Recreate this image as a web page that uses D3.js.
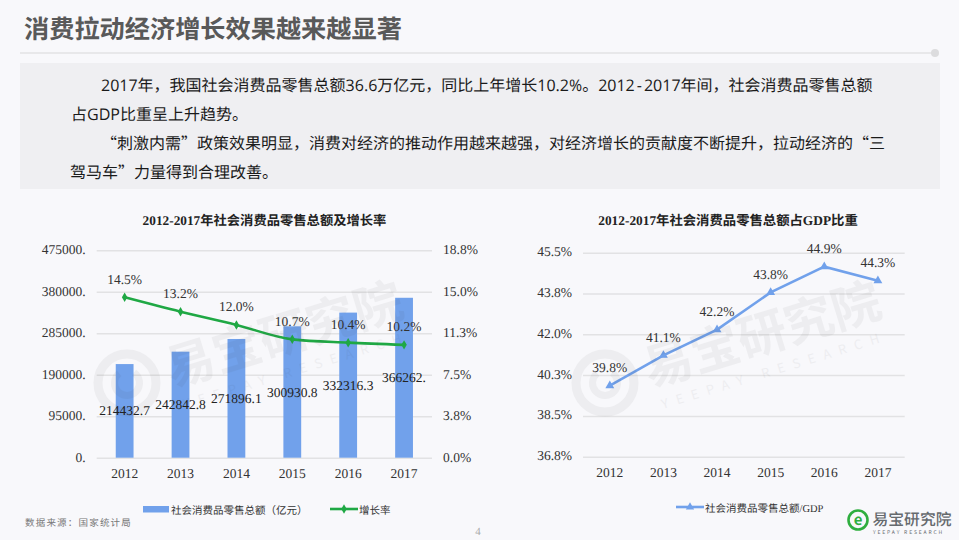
<!DOCTYPE html>
<html>
<head>
<meta charset="utf-8">
<script src="https://cdn.jsdelivr.net/npm/d3@7/dist/d3.min.js"></script>
<style>
  @font-face {
    font-family: "BodyLatin";
    src: local("Open Sans");
    unicode-range: U+25, U+2D-2E, U+30-39, U+41-5A;
  }
  html, body { margin: 0; padding: 0; background: #f8f8fb; }
  svg { display: block; }
  text { font-family: "Noto Sans CJK SC", sans-serif; text-rendering: geometricPrecision; }
  .num text, text.num { font-family: "Liberation Serif", "Noto Sans CJK SC", serif; }
  text.para { font-family: "BodyLatin", "Noto Sans CJK SC", sans-serif; }
  .axis path { display: none; }
  .axis line { stroke: #e2e2e4; stroke-width: 1.5; }
</style>
</head>
<body>
<div id="chart"></div>
<script>
var years = ["2012", "2013", "2014", "2015", "2016", "2017"];
var retailSales = [214432.7, 242842.8, 271896.1, 300930.8, 332316.3, 366262];
var growthRate = [14.5, 13.2, 12.0, 10.7, 10.4, 10.2];
var gdpShare = [39.8, 41.1, 42.2, 43.8, 44.9, 44.3];

var salesTicks = [0, 95000, 190000, 285000, 380000, 475000];
var rateTicks = [0, 3.75, 7.5, 11.25, 15, 18.75];
var shareTicks = [36.75, 38.5, 40.25, 42, 43.75, 45.5];

var paragraphLines = [
  "2017年，我国社会消费品零售总额36.6万亿元，同比上年增长10.2%。2012-2017年间，社会消费品零售总额",
  "占GDP比重呈上升趋势。",
  "“刺激内需”政策效果明显，消费对经济的推动作用越来越强，对经济增长的贡献度不断提升，拉动经济的“三",
  "驾马车”力量得到合理改善。"
];
var paragraphX = [101, 71, 101, 70];

var svg = d3.select("#chart").append("svg")
  .attr("width", 959)
  .attr("height", 540);

// header
svg.append("text")
  .attr("x", 24).attr("y", 38)
  .attr("font-size", 25.2).attr("font-weight", 700)
  .attr("fill", "#595959")
  .text("消费拉动经济增长效果越来越显著");

svg.append("line")
  .attr("x1", 20).attr("x2", 935).attr("y1", 53).attr("y2", 53)
  .attr("stroke", "#e8e8ea").attr("stroke-width", 2);
svg.append("circle")
  .attr("cx", 935).attr("cy", 53).attr("r", 4)
  .attr("fill", "#dcdcde");

svg.append("rect")
  .attr("x", 20).attr("y", 63).attr("width", 920).attr("height", 126)
  .attr("fill", "#efeff2");

svg.selectAll("text.para")
  .data(paragraphLines)
  .enter()
  .append("text")
  .attr("class", "para")
  .attr("x", (d, i) => paragraphX[i])
  .attr("y", (d, i) => 90.5 + i * 29)
  .attr("font-size", 16)
  .attr("fill", "#1a1a1a")
  .each(function(d) {
    // the hyphen sits wider in the reference than in this font
    d3.select(this).selectAll("tspan")
      .data(d.split(/(-)/))
      .enter()
      .append("tspan")
      .attr("dx", (p, i) => i ? 2 : 0)
      .text(p => p);
  });

// left chart
var leftX = d3.scaleBand().domain(years).range([96.7, 432]);
var salesY = d3.scaleLinear().domain([0, 475000]).range([457.7, 250.3]);
var rateY = d3.scaleLinear().domain([0, 18.75]).range([457.7, 250.3]);

var leftAxis = svg.append("g")
  .attr("class", "axis num")
  .attr("transform", "translate(96.7,0)")
  .call(d3.axisLeft(salesY)
    .tickValues(salesTicks)
    .tickSize(-335.3)
    .tickPadding(11)
    .tickFormat(d => d + "."));

var rightAxis = svg.append("g")
  .attr("class", "axis num")
  .attr("transform", "translate(432,0)")
  .call(d3.axisRight(rateY)
    .tickValues(rateTicks)
    .tickSize(0)
    .tickPadding(11)
    .tickFormat(d => d.toFixed(1) + "%"));

leftAxis.selectAll("text").attr("font-size", 13.5).attr("fill", "#333").attr("dy", "0.25em");
rightAxis.selectAll("text").attr("font-size", 13.5).attr("fill", "#333").attr("dy", "0.25em");

svg.selectAll("rect.bar")
  .data(retailSales)
  .enter()
  .append("rect")
  .attr("class", "bar")
  .attr("x", (d, i) => leftX(years[i]) + leftX.bandwidth() / 2 - 8.9)
  .attr("width", 17.8)
  .attr("y", d => salesY(d))
  .attr("height", d => salesY(0) - salesY(d))
  .attr("fill", "#71a1eb");

var rateLine = d3.line()
  .x((d, i) => leftX(years[i]) + leftX.bandwidth() / 2)
  .y(d => rateY(d))
  .curve(d3.curveMonotoneX);

svg.append("path")
  .datum(growthRate)
  .attr("d", rateLine)
  .attr("fill", "none")
  .attr("stroke", "#1fa844")
  .attr("stroke-width", 2.6);

svg.selectAll("path.rate-marker")
  .data(growthRate)
  .enter()
  .append("path")
  .attr("class", "rate-marker")
  .attr("d", d3.symbol(d3.symbolDiamond, 26))
  .attr("transform", (d, i) => `translate(${leftX(years[i]) + leftX.bandwidth() / 2},${rateY(d)})`)
  .attr("fill", "#1fa844");

svg.selectAll("text.rate-label")
  .data(growthRate)
  .enter()
  .append("text")
  .attr("class", "rate-label num")
  .attr("x", (d, i) => leftX(years[i]) + leftX.bandwidth() / 2)
  .attr("y", d => rateY(d) - 13.5)
  .attr("text-anchor", "middle")
  .attr("font-size", 13.5)
  .attr("fill", "#333")
  .text(d => d.toFixed(1) + "%");

svg.selectAll("text.sales-label")
  .data(retailSales)
  .enter()
  .append("text")
  .attr("class", "sales-label num")
  .attr("x", (d, i) => leftX(years[i]) + leftX.bandwidth() / 2)
  .attr("y", d => salesY(d / 2) + 4.5)
  .attr("text-anchor", "middle")
  .attr("font-size", 13.5)
  .attr("fill", "#222")
  .text(d => d % 1 ? d : d + ".");

svg.selectAll("text.left-year")
  .data(years)
  .enter()
  .append("text")
  .attr("class", "left-year num")
  .attr("x", d => leftX(d) + leftX.bandwidth() / 2)
  .attr("y", 478)
  .attr("text-anchor", "middle")
  .attr("font-size", 13.5)
  .attr("fill", "#333")
  .text(d => d);

svg.append("text")
  .attr("class", "num")
  .attr("x", 264.5).attr("y", 225)
  .attr("text-anchor", "middle")
  .attr("font-size", 13.3).attr("font-weight", 700)
  .attr("fill", "#222")
  .text("2012-2017年社会消费品零售总额及增长率");

// left legend
svg.append("rect")
  .attr("x", 143).attr("y", 506).attr("width", 26).attr("height", 6.5)
  .attr("fill", "#71a1eb");
svg.append("text")
  .attr("x", 171).attr("y", 513.5)
  .attr("font-size", 10.5).attr("fill", "#333")
  .text("社会消费品零售总额（亿元）");
svg.append("line")
  .attr("x1", 330).attr("x2", 358).attr("y1", 509).attr("y2", 509)
  .attr("stroke", "#1fa844").attr("stroke-width", 2.6);
svg.append("path")
  .attr("d", d3.symbol(d3.symbolDiamond, 26))
  .attr("transform", "translate(344,509)")
  .attr("fill", "#1fa844");
svg.append("text")
  .attr("x", 359).attr("y", 513.5)
  .attr("font-size", 10.5).attr("fill", "#333")
  .text("增长率");

// right chart
var rightX = d3.scaleBand().domain(years).range([583, 904.7]);
var shareY = d3.scaleLinear().domain([36.75, 45.5]).range([456.7, 252.7]);

var shareAxis = svg.append("g")
  .attr("class", "axis num")
  .attr("transform", "translate(583,0)")
  .call(d3.axisLeft(shareY)
    .tickValues(shareTicks)
    .tickSize(-321.7)
    .tickPadding(11)
    .tickFormat(d => d.toFixed(1) + "%"));
shareAxis.selectAll("text").attr("font-size", 13.5).attr("fill", "#333").attr("dy", "0.22em");

var shareLine = d3.line()
  .x((d, i) => rightX(years[i]) + rightX.bandwidth() / 2)
  .y(d => shareY(d));

svg.append("path")
  .datum(gdpShare)
  .attr("d", shareLine)
  .attr("fill", "none")
  .attr("stroke", "#71a1eb")
  .attr("stroke-width", 2.6);

svg.selectAll("path.share-marker")
  .data(gdpShare)
  .enter()
  .append("path")
  .attr("class", "share-marker")
  .attr("d", d3.symbol(d3.symbolTriangle, 34))
  .attr("transform", (d, i) => `translate(${rightX(years[i]) + rightX.bandwidth() / 2},${shareY(d)})`)
  .attr("fill", "#71a1eb");

svg.selectAll("text.share-label")
  .data(gdpShare)
  .enter()
  .append("text")
  .attr("class", "share-label num")
  .attr("x", (d, i) => rightX(years[i]) + rightX.bandwidth() / 2)
  .attr("y", d => shareY(d) - 13.5)
  .attr("text-anchor", "middle")
  .attr("font-size", 13.5)
  .attr("fill", "#333")
  .text(d => d.toFixed(1) + "%");

svg.selectAll("text.right-year")
  .data(years)
  .enter()
  .append("text")
  .attr("class", "right-year num")
  .attr("x", d => rightX(d) + rightX.bandwidth() / 2)
  .attr("y", 477)
  .attr("text-anchor", "middle")
  .attr("font-size", 13.5)
  .attr("fill", "#333")
  .text(d => d);

svg.append("text")
  .attr("class", "num")
  .attr("x", 728).attr("y", 225)
  .attr("text-anchor", "middle")
  .attr("font-size", 13.35).attr("font-weight", 700)
  .attr("fill", "#222")
  .text("2012-2017年社会消费品零售总额占GDP比重");

// right legend
svg.append("line")
  .attr("x1", 676).attr("x2", 704).attr("y1", 507).attr("y2", 507)
  .attr("stroke", "#71a1eb").attr("stroke-width", 2.6);
svg.append("path")
  .attr("d", d3.symbol(d3.symbolTriangle, 30))
  .attr("transform", "translate(690,507)")
  .attr("fill", "#71a1eb");
svg.append("text")
  .attr("class", "num")
  .attr("x", 705).attr("y", 511.5)
  .attr("font-size", 10.5).attr("fill", "#333")
  .text("社会消费品零售总额/GDP");

// watermarks, faint and on top of the marks
function watermark(cx, cy) {
  var g = svg.append("g").attr("opacity", 0.05).attr("fill", "#333");
  g.append("circle")
    .attr("cx", cx).attr("cy", cy).attr("r", 29)
    .attr("fill", "none").attr("stroke", "#333").attr("stroke-width", 9);
  g.append("path")
    .attr("transform", `translate(${cx},${cy})`)
    .attr("d", d3.arc()({ innerRadius: 9, outerRadius: 16, startAngle: 0.6, endAngle: 5.6 }));
  g.append("text")
    .attr("transform", `translate(${cx + 45},${cy + 4}) rotate(-17)`)
    .attr("font-size", 49).attr("font-weight", 700)
    .text("易宝研究院");
  g.append("text")
    .attr("transform", `translate(${cx + 58},${cy + 26}) rotate(-17)`)
    .attr("font-size", 13).attr("letter-spacing", 8.2)
    .text("YEEPAY RESEARCH");
}
watermark(127, 383);
watermark(605, 383);

// footer
svg.append("text")
  .attr("x", 25).attr("y", 526)
  .attr("font-size", 9.5).attr("letter-spacing", 1.2)
  .attr("fill", "#777")
  .text("数据来源：国家统计局");
svg.append("text")
  .attr("class", "num")
  .attr("x", 478).attr("y", 535)
  .attr("text-anchor", "middle")
  .attr("font-size", 11).attr("fill", "#aaa")
  .text("4");

// logo
svg.append("circle")
  .attr("cx", 858).attr("cy", 520).attr("r", 9.5)
  .attr("fill", "none").attr("stroke", "#2fae3f").attr("stroke-width", 2.6);
svg.append("text")
  .attr("x", 858).attr("y", 525)
  .attr("text-anchor", "middle")
  .attr("font-size", 15).attr("font-weight", 700)
  .attr("fill", "#2fae3f")
  .text("e");
svg.append("text")
  .attr("x", 872.5).attr("y", 525)
  .attr("font-size", 15.8).attr("font-weight", 500)
  .attr("fill", "#666a6e")
  .text("易宝研究院");
svg.append("text")
  .attr("x", 873).attr("y", 534)
  .attr("font-size", 5).attr("letter-spacing", 1.85)
  .attr("fill", "#666a6e")
  .text("YEEPAY RESEARCH");
</script>
</body>
</html>
